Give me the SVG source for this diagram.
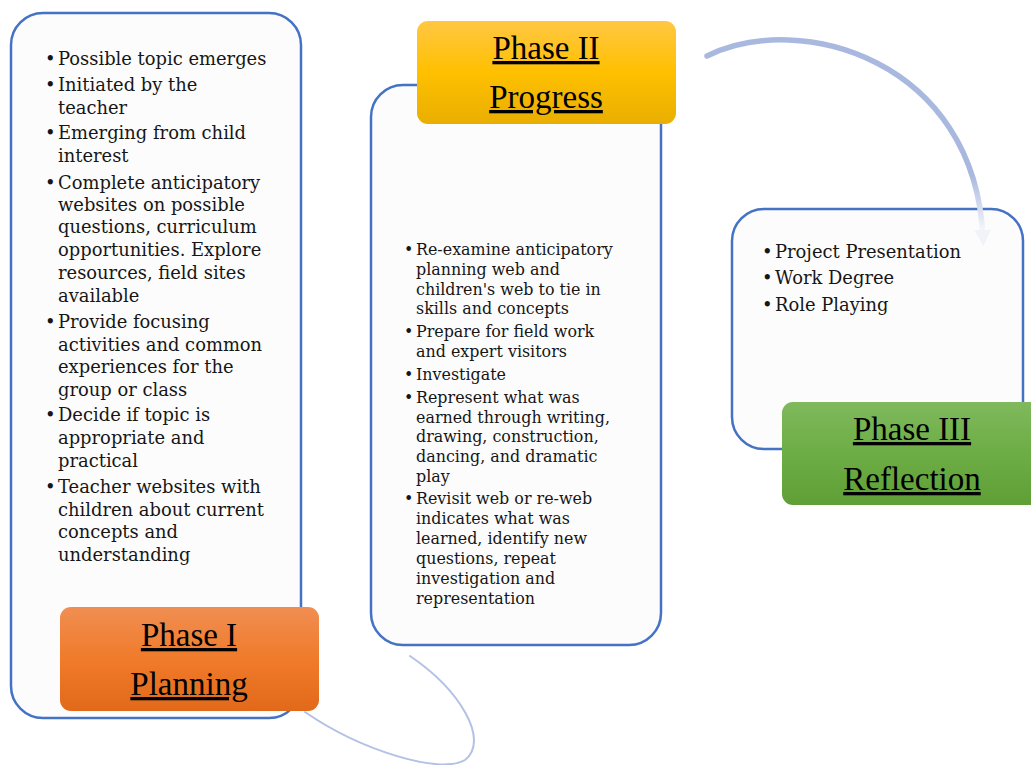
<svg xmlns="http://www.w3.org/2000/svg" width="1031" height="765" viewBox="0 0 1031 765">
  <defs>
    <style>
      .panel { fill: #fcfcfc; stroke: #4472c4; stroke-width: 2.5; }
      .item { font-family: "DejaVu Serif", "Liberation Serif", serif; fill: #161616; }
      .big { font-size: 17.9px; }
      .small { font-size: 15.9px; }
      .title { font-family: "Liberation Serif", "Times New Roman", serif; font-size: 33px; fill: #000; text-anchor: middle; text-decoration: underline; }
      .flow { fill: none; stroke-linecap: round; }
    </style>
    <linearGradient id="gOrange" x1="0" y1="0" x2="0" y2="1">
      <stop offset="0" stop-color="#f08e52"/>
      <stop offset="0.5" stop-color="#f07b2a"/>
      <stop offset="1" stop-color="#e2691a"/>
    </linearGradient>
    <linearGradient id="gGold" x1="0" y1="0" x2="0" y2="1">
      <stop offset="0" stop-color="#ffc743"/>
      <stop offset="0.5" stop-color="#ffc000"/>
      <stop offset="1" stop-color="#e9ae00"/>
    </linearGradient>
    <linearGradient id="gGreen" x1="0" y1="0" x2="0" y2="1">
      <stop offset="0" stop-color="#7fb95c"/>
      <stop offset="0.5" stop-color="#6dad45"/>
      <stop offset="1" stop-color="#5f9f36"/>
    </linearGradient>
    <linearGradient id="gFade" gradientUnits="userSpaceOnUse" x1="0" y1="175" x2="0" y2="230">
      <stop offset="0" stop-color="#a9b8de"/>
      <stop offset="1" stop-color="#f4f6fb"/>
    </linearGradient>
    <marker id="headFade" viewBox="0 0 10 10" refX="5" refY="5" markerWidth="3" markerHeight="3" orient="auto" markerUnits="strokeWidth">
      <path d="M0,0 L10,5 L0,10 Z" fill="#f1f3f9"/>
    </marker>
  </defs>

  <rect width="1031" height="765" fill="#ffffff"/>

  <!-- Phase I: planning -->
  <g id="phase1">
    <rect class="panel" x="11" y="13" width="290" height="705" rx="32"/>
    <g class="item big">
      <text x="45" y="65">•</text><text x="58" y="65">Possible topic emerges</text>
      <text x="45" y="91">•</text><text x="58" y="91">Initiated by the</text>
      <text x="58" y="114">teacher</text>
      <text x="45" y="139">•</text><text x="58" y="139">Emerging from child</text>
      <text x="58" y="162">interest</text>
      <text x="45" y="189">•</text><text x="58" y="189">Complete anticipatory</text>
      <text x="58" y="211">websites on possible</text>
      <text x="58" y="233">questions, curriculum</text>
      <text x="58" y="256">opportunities. Explore</text>
      <text x="58" y="279">resources, field sites</text>
      <text x="58" y="302">available</text>
      <text x="45" y="328">•</text><text x="58" y="328">Provide focusing</text>
      <text x="58" y="351">activities and common</text>
      <text x="58" y="373">experiences for the</text>
      <text x="58" y="396">group or class</text>
      <text x="45" y="421">•</text><text x="58" y="421">Decide if topic is</text>
      <text x="58" y="444">appropriate and</text>
      <text x="58" y="467">practical</text>
      <text x="45" y="493">•</text><text x="58" y="493">Teacher websites with</text>
      <text x="58" y="516">children about current</text>
      <text x="58" y="538">concepts and</text>
      <text x="58" y="561">understanding</text>
    </g>
    <rect x="60" y="607" width="259" height="104" rx="11" fill="url(#gOrange)"/>
    <text class="title" x="189" y="646">Phase I</text>
    <text class="title" x="189" y="695">Planning</text>
  </g>

  <!-- Phase II: progress -->
  <g id="phase2">
    <rect class="panel" x="371" y="85" width="290" height="560" rx="32"/>
    <g class="item small">
      <text x="404" y="255">•</text><text x="416" y="255">Re-examine anticipatory</text>
      <text x="416" y="275">planning web and</text>
      <text x="416" y="295">children's web to tie in</text>
      <text x="416" y="314">skills and concepts</text>
      <text x="404" y="337">•</text><text x="416" y="337">Prepare for field work</text>
      <text x="416" y="357">and expert visitors</text>
      <text x="404" y="380">•</text><text x="416" y="380">Investigate</text>
      <text x="404" y="403">•</text><text x="416" y="403">Represent what was</text>
      <text x="416" y="423">earned through writing,</text>
      <text x="416" y="442">drawing, construction,</text>
      <text x="416" y="462">dancing, and dramatic</text>
      <text x="416" y="482">play</text>
      <text x="404" y="504">•</text><text x="416" y="504">Revisit web or re-web</text>
      <text x="416" y="524">indicates what was</text>
      <text x="416" y="544">learned, identify new</text>
      <text x="416" y="564">questions, repeat</text>
      <text x="416" y="584">investigation and</text>
      <text x="416" y="604">representation</text>
    </g>
    <rect x="417" y="21" width="259" height="103" rx="11" fill="url(#gGold)"/>
    <text class="title" x="546" y="59">Phase II</text>
    <text class="title" x="546" y="108">Progress</text>
  </g>

  <!-- Phase III: reflection -->
  <g id="phase3">
    <rect class="panel" x="732" y="209" width="291" height="240" rx="32"/>
    <g class="item big">
      <text x="762" y="258">•</text><text x="775" y="258">Project Presentation</text>
      <text x="762" y="284">•</text><text x="775" y="284">Work Degree</text>
      <text x="762" y="311">•</text><text x="775" y="311">Role Playing</text>
    </g>
    <rect x="782" y="402" width="259" height="103" rx="11" fill="url(#gGreen)"/>
    <text class="title" x="912" y="440">Phase III</text>
    <text class="title" x="912" y="490">Reflection</text>
  </g>

  <!-- connectors, drawn over the panels -->
  <g id="connectors">
    <path class="flow" d="M707,56 C800,10 975,60 983,238" stroke="url(#gFade)" stroke-width="5.5" marker-end="url(#headFade)"/>
    <path class="flow" d="M305,712 C360,750 440,775 465,760 C490,740 460,690 410,656" stroke="#b3c1e4" stroke-width="2"/>
  </g>
</svg>
